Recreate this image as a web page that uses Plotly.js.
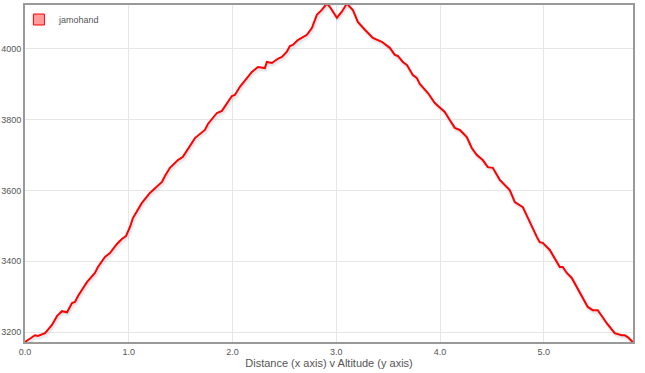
<!DOCTYPE html>
<html>
<head>
<meta charset="utf-8">
<script src="https://cdn.plot.ly/plotly-3.0.1.min.js"></script>
<style>
html,body{margin:0;padding:0;background:#fff;}
#chart{width:645px;height:373px;}
.scatterlayer .trace path.js-line{filter:drop-shadow(1px 2px 1px rgba(60,90,110,0.25));}
</style>
</head>
<body>
<div id="chart"></div>
<script>
const seriesName = "jamohand";
const distance = [0,0.096,0.125,0.164,0.193,0.260,0.308,0.356,0.405,0.453,0.482,0.511,0.597,0.674,0.703,0.771,0.819,0.886,0.934,0.973,1.012,1.040,1.089,1.127,1.204,1.320,1.349,1.397,1.474,1.522,1.638,1.734,1.763,1.850,1.898,1.994,2.023,2.071,2.187,2.245,2.312,2.331,2.380,2.437,2.476,2.524,2.553,2.582,2.630,2.717,2.765,2.813,2.861,2.909,2.938,3.006,3.054,3.102,3.160,3.208,3.276,3.353,3.439,3.516,3.565,3.593,3.642,3.680,3.738,3.776,3.805,3.882,3.950,4.046,4.094,4.143,4.191,4.258,4.306,4.355,4.412,4.461,4.509,4.576,4.672,4.721,4.798,4.884,4.933,4.961,4.990,5.058,5.154,5.183,5.222,5.270,5.366,5.424,5.472,5.520,5.568,5.607,5.684,5.751,5.780,5.809,5.857];
const altitude = [3172,3191,3189,3194,3197,3220,3245,3259,3256,3282,3285,3302,3341,3367,3384,3412,3423,3449,3463,3471,3497,3522,3548,3565,3593,3624,3641,3664,3686,3695,3748,3771,3788,3819,3825,3867,3870,3893,3935,3949,3946,3963,3960,3972,3977,3992,4008,4011,4025,4040,4059,4096,4110,4128,4119,4088,4105,4128,4110,4076,4054,4031,4020,4003,3983,3980,3963,3955,3926,3918,3901,3876,3847,3822,3799,3777,3771,3751,3720,3700,3686,3666,3664,3630,3601,3567,3553,3497,3469,3454,3452,3432,3384,3384,3367,3353,3299,3271,3262,3262,3242,3225,3197,3191,3191,3186,3172];
const xTickVals = [0,1,2,3,4,5];
const yTickVals = [3200,3400,3600,3800,4000];

const traces = [
  {
    x: distance, y: altitude, type: 'scatter', mode: 'lines',
    line: {color: '#ff0000', width: 2, shape: 'linear'},
    showlegend: false, hoverinfo: 'skip', cliponaxis: true
  },
  {
    x: [null], y: [null], type: 'scatter', mode: 'markers', name: seriesName,
    marker: {symbol: 'square', size: 11, color: '#ff9b9b', line: {color: '#ff0000', width: 1}},
    showlegend: true
  }
];

const layout = {
  width: 645, height: 373,
  margin: {l: 25, r: 12, t: 5, b: 31},
  paper_bgcolor: '#fff', plot_bgcolor: '#fff',
  font: {family: 'Liberation Sans, Arial, sans-serif', size: 9, color: '#555'},
  showlegend: true,
  legend: {x: -0.01, y: 1.0, xanchor: 'left', yanchor: 'top', bgcolor: 'rgba(0,0,0,0)',
           font: {size: 9, color: '#555'}, itemwidth: 30},
  xaxis: {
    range: [0, 5.86], tickvals: xTickVals, ticktext: xTickVals.map(v => v.toFixed(1)),
    showgrid: true, gridcolor: '#e6e6e6', gridwidth: 1,
    showline: true, linecolor: '#999', linewidth: 2, mirror: true,
    zeroline: false, ticks: '', ticklen: 0,
    title: {text: 'Distance (x axis) v Altitude (y axis)', font: {size: 11, color: '#555'}, standoff: 3}
  },
  yaxis: {
    range: [3172, 4124], tickvals: yTickVals,
    showgrid: true, gridcolor: '#e6e6e6', gridwidth: 1,
    showline: true, linecolor: '#999', linewidth: 2, mirror: true,
    zeroline: false, ticks: '', ticklen: 0
  }
};

Plotly.newPlot('chart', traces, layout, {displayModeBar: false, staticPlot: true});
</script>
</body>
</html>
